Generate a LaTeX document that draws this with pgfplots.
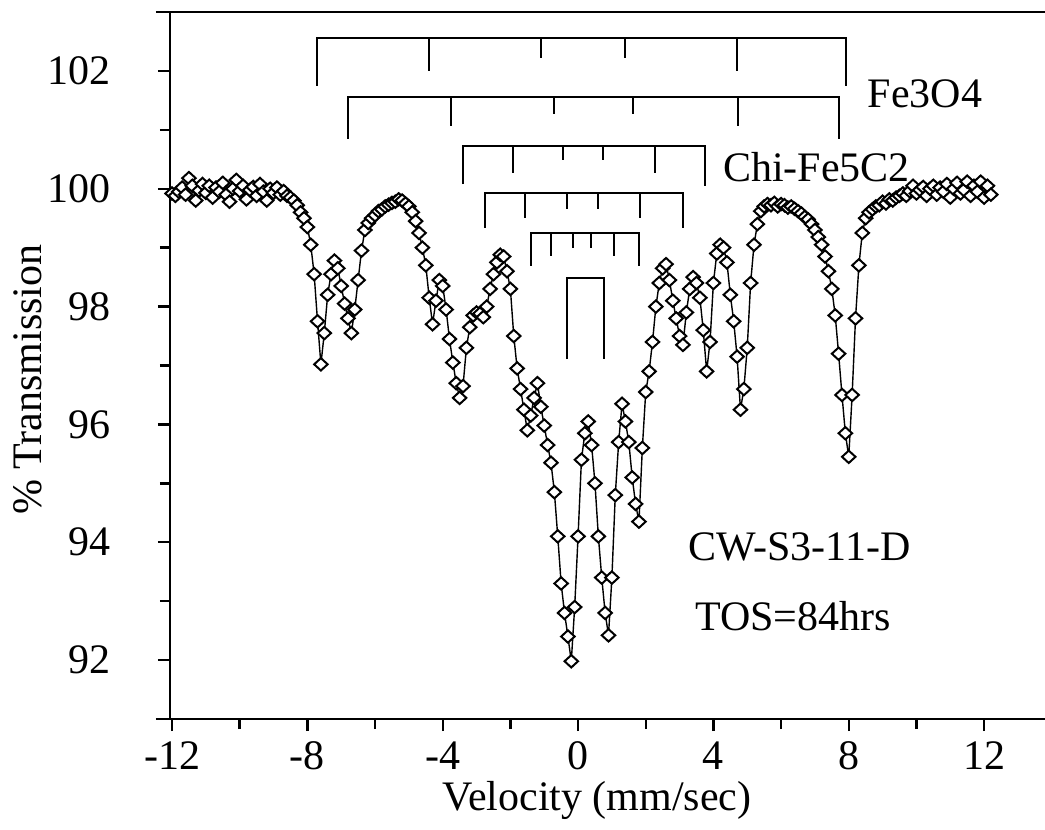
\documentclass[border=0pt]{standalone}
\usepackage{fontspec}
\setmainfont{Liberation Serif}
\usepackage{pgfplots}
\pgfplotsset{compat=1.18}
\usetikzlibrary{calc}

\newcommand{\bigfont}{\fontsize{21}{25}\selectfont}

\begin{document}
\begin{tikzpicture}
\begin{axis}[
  scale only axis,
  width=437.5pt,height=353.5pt,
  xmin=-12.06,xmax=13.8,
  ymin=91,ymax=103,
  axis x line*=box,axis y line*=left,
  xtick pos=left,
  axis line style={line width=1.3pt},
  x axis line style={shorten <=-7pt},
  xtick={-12,-8,...,12},ytick={92,94,...,102},
  minor x tick num=1,minor y tick num=1,
  tick align=outside,
  major tick length=6pt,minor tick length=5pt,
  tick style={line width=1.2pt,black},
  /pgf/number format/assume math mode=true,
  tick label style={font=\bigfont},
  yticklabel style={xshift=-20pt},
  xticklabel style={yshift=-2pt},
  xlabel={Velocity (mm/sec)},
  ylabel={\% Transmission},
  label style={font=\bigfont},
  xlabel style={at={(axis description cs:0.488,0)},anchor=center,yshift=-40.5pt},
  ylabel style={at={(axis description cs:0,0.48)},anchor=center,yshift=71pt},
  clip=false,
  unbounded coords=jump,
]
% stick diagrams
\addplot[black,line width=1pt] coordinates {
 (-7.73,101.75) (-7.73,102.56) (7.91,102.56) (7.91,101.75) (0,nan)
 (-4.42,102.56) (-4.42,102.0) (0,nan) (4.69,102.56) (4.69,102.0) (0,nan)
 (-1.09,102.56) (-1.09,102.22) (0,nan) (1.39,102.56) (1.39,102.22)};
\addplot[black,line width=1pt] coordinates {
 (-6.81,100.85) (-6.81,101.55) (7.70,101.55) (7.70,100.85) (0,nan)
 (-3.75,101.55) (-3.75,101.07) (0,nan) (4.72,101.55) (4.72,101.07) (0,nan)
 (-0.71,101.55) (-0.71,101.27) (0,nan) (1.62,101.55) (1.62,101.27)};
\addplot[black,line width=1pt] coordinates {
 (-3.39,100.08) (-3.39,100.73) (3.75,100.73) (3.75,100.05) (0,nan)
 (-1.92,100.73) (-1.92,100.27) (0,nan) (2.27,100.73) (2.27,100.27) (0,nan)
 (-0.44,100.73) (-0.44,100.48) (0,nan) (0.74,100.73) (0.74,100.48)};
\addplot[black,line width=1pt] coordinates {
 (-2.74,99.34) (-2.74,99.92) (3.10,99.92) (3.10,99.34) (0,nan)
 (-1.56,99.92) (-1.56,99.51) (0,nan) (1.83,99.92) (1.83,99.51) (0,nan)
 (-0.32,99.92) (-0.32,99.66) (0,nan) (0.59,99.92) (0.59,99.66)};
\addplot[black,line width=1pt] coordinates {
 (-1.39,98.69) (-1.39,99.25) (1.80,99.25) (1.80,98.69) (0,nan)
 (-0.80,99.25) (-0.80,98.86) (0,nan) (1.06,99.25) (1.06,98.86) (0,nan)
 (-0.15,99.25) (-0.15,99.0) (0,nan) (0.38,99.25) (0.38,99.0)};
\addplot[black,line width=1pt] coordinates {
 (-0.32,97.11) (-0.32,98.49) (0.77,98.49) (0.77,97.11)};

% spectrum
\addplot[black,line width=0.7pt,mark=diamond*,mark size=3.1pt,
  mark options={fill=white,draw=black,line width=1pt,xscale=1.45}] coordinates {
(-12.0,99.92) (-11.9,99.88) (-11.8,99.95) (-11.7,100.02) (-11.6,99.90)
(-11.5,100.18) (-11.4,100.05) (-11.3,99.80) (-11.2,99.97) (-11.1,100.08)
(-11.0,99.93) (-10.9,100.05) (-10.8,99.85) (-10.7,100.02) (-10.6,99.95)
(-10.5,100.10) (-10.4,99.90) (-10.3,99.78) (-10.2,100.00) (-10.1,100.15)
(-10.0,99.96) (-9.9,100.05) (-9.8,99.82) (-9.7,99.98) (-9.6,100.03)
(-9.5,99.88) (-9.4,100.08) (-9.3,99.95) (-9.2,99.80) (-9.1,100.00)
(-9.0,99.93) (-8.9,100.02) (-8.8,99.90) (-8.7,99.96) (-8.6,99.88)
(-8.5,99.85) (-8.4,99.80) (-8.3,99.72) (-8.2,99.60) (-8.1,99.50)
(-8.0,99.35) (-7.9,99.05) (-7.8,98.55) (-7.7,97.75) (-7.6,97.02)
(-7.5,97.55) (-7.4,98.20) (-7.3,98.55) (-7.2,98.78) (-7.1,98.65)
(-7.0,98.35) (-6.9,98.05) (-6.8,97.80) (-6.7,97.55) (-6.6,97.95)
(-6.5,98.45) (-6.4,98.95) (-6.3,99.30) (-6.2,99.42) (-6.1,99.50)
(-6.0,99.55) (-5.9,99.62) (-5.8,99.65) (-5.7,99.70) (-5.6,99.73)
(-5.5,99.76) (-5.4,99.78) (-5.3,99.82) (-5.2,99.80) (-5.1,99.75)
(-5.0,99.70) (-4.9,99.60) (-4.8,99.45) (-4.7,99.25) (-4.6,99.00)
(-4.5,98.70) (-4.4,98.15) (-4.3,97.70) (-4.2,98.10) (-4.1,98.45)
(-4.0,98.35) (-3.9,97.95) (-3.8,97.45) (-3.7,97.05) (-3.6,96.70)
(-3.5,96.45) (-3.4,96.65) (-3.3,97.30) (-3.2,97.65) (-3.1,97.85)
(-3.0,97.90) (-2.9,97.88) (-2.8,97.82) (-2.7,98.00) (-2.6,98.30)
(-2.5,98.55) (-2.4,98.75) (-2.3,98.88) (-2.2,98.85) (-2.1,98.60)
(-2.0,98.30) (-1.9,97.50) (-1.8,96.95) (-1.7,96.60) (-1.6,96.25)
(-1.5,95.90) (-1.4,96.15) (-1.3,96.45) (-1.2,96.70) (-1.1,96.30)
(-1.0,95.98) (-0.9,95.65) (-0.8,95.35) (-0.7,94.85) (-0.6,94.10)
(-0.5,93.30) (-0.4,92.80) (-0.3,92.40) (-0.2,91.98) (-0.1,92.90)
(0.0,94.10) (0.1,95.40) (0.2,95.85) (0.3,96.05) (0.4,95.65)
(0.5,95.00) (0.6,94.10) (0.7,93.40) (0.8,92.80) (0.9,92.42)
(1.0,93.40) (1.1,94.80) (1.2,95.70) (1.3,96.35) (1.4,96.05)
(1.5,95.70) (1.6,95.10) (1.7,94.65) (1.8,94.35) (1.9,95.60)
(2.0,96.55) (2.1,96.90) (2.2,97.40) (2.3,98.00) (2.4,98.40)
(2.5,98.65) (2.6,98.72) (2.7,98.45) (2.8,98.10) (2.9,97.80)
(3.0,97.50) (3.1,97.35) (3.2,97.90) (3.3,98.30) (3.4,98.50)
(3.5,98.40) (3.6,98.15) (3.7,97.60) (3.8,96.90) (3.9,97.40)
(4.0,98.40) (4.1,98.90) (4.2,99.05) (4.3,99.00) (4.4,98.75)
(4.5,98.20) (4.6,97.75) (4.7,97.15) (4.8,96.25) (4.9,96.60)
(5.0,97.30) (5.1,98.40) (5.2,99.05) (5.3,99.40) (5.4,99.62)
(5.5,99.70) (5.6,99.74) (5.7,99.72) (5.8,99.76) (5.9,99.70)
(6.0,99.74) (6.1,99.72) (6.2,99.68) (6.3,99.70) (6.4,99.66)
(6.5,99.62) (6.6,99.58) (6.7,99.52) (6.8,99.48) (6.9,99.40)
(7.0,99.30) (7.1,99.18) (7.2,99.05) (7.3,98.85) (7.4,98.60)
(7.5,98.30) (7.6,97.85) (7.7,97.20) (7.8,96.50) (7.9,95.85)
(8.0,95.45) (8.1,96.50) (8.2,97.80) (8.3,98.70) (8.4,99.25)
(8.5,99.50) (8.6,99.60) (8.7,99.65) (8.8,99.70) (8.9,99.72)
(9.0,99.78) (9.1,99.75) (9.2,99.82) (9.3,99.80) (9.4,99.85)
(9.5,99.88) (9.6,99.92) (9.7,99.88) (9.8,99.96) (9.9,100.05)
(10.0,99.92) (10.1,99.98) (10.2,100.03) (10.3,99.88) (10.4,100.00)
(10.5,100.05) (10.6,99.90) (10.7,100.02) (10.8,99.95) (10.9,100.08)
(11.0,99.85) (11.1,100.00) (11.2,100.10) (11.3,99.92) (11.4,99.98)
(11.5,100.12) (11.6,99.88) (11.7,100.05) (11.8,99.95) (11.9,100.12)
(12.0,99.85) (12.1,100.05) (12.2,99.90)};

\node[anchor=west,inner sep=0pt,font=\bigfont] at (axis cs:8.55,101.62) {Fe3O4};
\node[anchor=west,inner sep=0pt,font=\bigfont] at (axis cs:4.28,100.37) {Chi-Fe5C2};
\node[anchor=west,inner sep=0pt,font=\bigfont] at (axis cs:3.24,93.92) {CW-S3-11-D};
\node[anchor=west,inner sep=0pt,font=\bigfont] at (axis cs:3.45,92.75) {TOS=84hrs};

\coordinate (bl) at (rel axis cs:0,0);
\coordinate (tr) at (rel axis cs:1,1);
\end{axis}
\pgfresetboundingbox
\path ($(bl)+(-85pt,-55.5pt)$) rectangle ($(tr)+(0pt,6pt)$);
\end{tikzpicture}
\end{document}
